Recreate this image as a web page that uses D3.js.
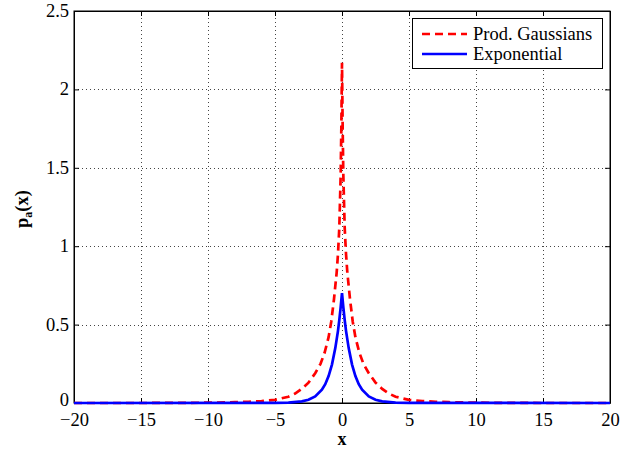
<!DOCTYPE html>
<html lang="en">
<head>
<meta charset="UTF-8">
<title>p_a(x)</title>
<script src="https://cdn.jsdelivr.net/npm/d3@7"></script>
<style>
  body { margin: 0; background: #fff; }
</style>
</head>
<body>
<div id="chart"></div>
<script>
// values (curves are symmetric about x = 0)
var gaussX = [0, 0.05, 0.1, 0.2, 0.3, 0.4, 0.6, 0.8, 1.0, 1.3, 1.6, 2.0, 2.5, 3.0, 3.5, 4.0, 5.0, 6.0, 7.0, 8.0, 10, 12, 15, 20];
var gaussY = [2.17, 1.75, 1.45, 1.12, 0.95, 0.83, 0.66, 0.52, 0.42, 0.32, 0.25, 0.19, 0.13, 0.09, 0.06, 0.04, 0.02, 0.012, 0.008, 0.005, 0.002, 0.001, 0, 0];
var expX = [0, 0.1, 0.2, 0.3, 0.5, 0.75, 1.0, 1.25, 1.5, 2.0, 2.5, 3.0, 4.0, 5.0, 20];
var expY = [0.70, 0.61, 0.53, 0.46, 0.35, 0.245, 0.172, 0.12, 0.085, 0.042, 0.021, 0.010, 0.0025, 0.0006, 0];
var xTicks = [-20, -15, -10, -5, 0, 5, 10, 15, 20];
var yTicks = [0, 0.5, 1, 1.5, 2, 2.5];
var legendNames = ["Prod. Gaussians", "Exponential"];

var FONT = "'Liberation Serif', 'DejaVu Serif', serif";

// mirror the half-curves into full series
function mirror(xs, ys) {
  var pts = [];
  for (var i = xs.length - 1; i > 0; i--) pts.push([-xs[i], ys[i]]);
  for (var j = 0; j < xs.length; j++) pts.push([xs[j], ys[j]]);
  return pts;
}
var gaussData = mirror(gaussX, gaussY);
var expData = mirror(expX, expY);

var width = 620, height = 452;
var margin = {top: 11, right: 10, bottom: 49, left: 74};

var svg = d3.select("#chart").append("svg")
  .attr("width", width)
  .attr("height", height);

var x = d3.scaleLinear().domain([-20, 20]).range([margin.left, width - margin.right]);
var y = d3.scaleLinear().domain([0, 2.5]).range([height - margin.bottom, margin.top]);

// grid
var grid = svg.append("g").attr("stroke", "#444").attr("stroke-width", 1).attr("stroke-dasharray", "1,3");
grid.selectAll(".gx").data(xTicks.slice(1, -1)).enter().append("line")
  .attr("x1", d => Math.round(x(d)) + 0.5).attr("x2", d => Math.round(x(d)) + 0.5)
  .attr("y1", y(0)).attr("y2", y(2.5));
grid.selectAll(".gy").data(yTicks.slice(1, -1)).enter().append("line")
  .attr("y1", d => Math.round(y(d)) + 0.5).attr("y2", d => Math.round(y(d)) + 0.5)
  .attr("x1", x(-20)).attr("x2", x(20));

// axes, ticks inward like MATLAB
var bottom = svg.append("g")
  .attr("transform", "translate(0," + y(0) + ")")
  .call(d3.axisBottom(x).tickValues(xTicks).tickSizeInner(-5).tickSizeOuter(0)
    .tickFormat(d => d < 0 ? "\u2212" + Math.abs(d) : d));
var left = svg.append("g")
  .attr("transform", "translate(" + x(-20) + ",0)")
  .call(d3.axisLeft(y).tickValues(yTicks).tickSizeInner(-5).tickSizeOuter(0)
    .tickFormat(d3.format("")));
svg.append("g")
  .attr("transform", "translate(0," + y(2.5) + ")")
  .call(d3.axisTop(x).tickValues(xTicks).tickSizeInner(-5).tickSizeOuter(0).tickFormat(""));
svg.append("g")
  .attr("transform", "translate(" + x(20) + ",0)")
  .call(d3.axisRight(y).tickValues(yTicks).tickSizeInner(-5).tickSizeOuter(0).tickFormat(""));

svg.selectAll(".domain").attr("stroke", "#000");
svg.selectAll(".tick line").attr("stroke", "#000");
svg.selectAll(".tick text")
  .attr("font-size", 18.5)
  .attr("fill", "#000");
bottom.selectAll(".tick text").attr("y", 9.5).attr("dy", "0.71em");
left.selectAll(".tick text").attr("x", -5).attr("dy", "0.3em");
left.selectAll(".tick text").filter(d => d === 0).attr("dy", "0.15em");

// box
svg.append("rect")
  .attr("x", x(-20)).attr("y", y(2.5))
  .attr("width", x(20) - x(-20)).attr("height", y(0) - y(2.5))
  .attr("fill", "none").attr("stroke", "#000").attr("stroke-width", 1);

// curves
var line = d3.line().x(d => x(d[0])).y(d => y(d[1]));
var plot = svg.append("g");
plot.append("path").datum(gaussData)
  .attr("d", line)
  .attr("fill", "none").attr("stroke", "#ff0000").attr("stroke-width", 2.7)
  .attr("stroke-dasharray", "8,5");
plot.append("path").datum(expData)
  .attr("d", line)
  .attr("fill", "none").attr("stroke", "#0000ff").attr("stroke-width", 2.7);

// axis labels
svg.append("text")
  .attr("x", x(0)).attr("y", 445)
  .attr("text-anchor", "middle")
  .attr("font-size", 18).attr("font-weight", "bold")
  .text("x");
var yl = svg.append("text")
  .attr("transform", "translate(28," + 209 + ") rotate(-90)")
  .attr("text-anchor", "middle")
  .attr("font-size", 18.5).attr("font-weight", "bold");
yl.append("tspan").text("p");
yl.append("tspan").attr("font-size", 12).attr("dy", 4).text("a");
yl.append("tspan").attr("dy", -4).text("(x)");

// legend
var lg = svg.append("g");
lg.append("rect")
  .attr("x", 412.5).attr("y", 18.5).attr("width", 190).attr("height", 50)
  .attr("fill", "#fff").attr("stroke", "#000").attr("stroke-width", 1);
var colors = ["#ff0000", "#0000ff"];
var dashes = ["8,5", null];
legendNames.forEach(function(name, i) {
  var ly = 34 + i * 20;
  lg.append("line")
    .attr("x1", 422).attr("x2", 467).attr("y1", ly).attr("y2", ly)
    .attr("stroke", colors[i]).attr("stroke-width", 2.7)
    .attr("stroke-dasharray", dashes[i]);
  lg.append("text")
    .attr("x", 473).attr("y", ly).attr("dy", "0.35em")
    .attr("font-size", 18.5)
    .text(name);
});

// serif font everywhere, set inline so nothing overrides it
svg.selectAll("g").attr("font-family", null);
svg.selectAll("text").style("font-family", FONT);
</script>
</body>
</html>
